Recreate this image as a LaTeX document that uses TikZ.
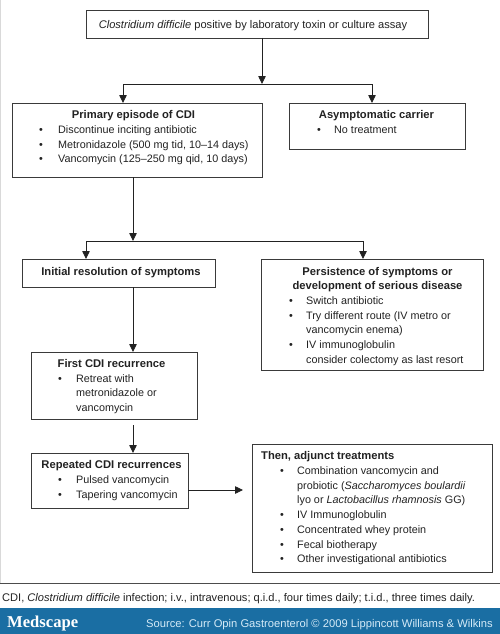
\documentclass[tikz,border=0pt]{standalone}
\usepackage{fontspec}
\setmainfont{Liberation Sans}
\newfontfamily\logofont{Liberation Serif}
\usetikzlibrary{arrows.meta}
\definecolor{band}{HTML}{1A6EA3}
\definecolor{srctext}{HTML}{D4EAF7}
\definecolor{ink}{HTML}{222222}
\definecolor{frame}{HTML}{3A3A3A}
\newcommand\bu[1]{\makebox[#1][l]{\textbullet}}
\newcommand\ind[1]{\hspace*{#1}}
\begin{document}
\begin{tikzpicture}[x=1pt,y=-1pt,
  box/.style={draw=frame, line width=0.8pt, inner sep=0, outer sep=0, anchor=north west},
  txt/.style={inner sep=0, anchor=base west, text=ink, font=\fontsize{10.8}{14.7}\selectfont},
  ttl/.style={txt, anchor=base, font=\fontsize{11.2}{14.3}\selectfont\bfseries},
  arr/.style={draw=ink, -{Triangle[length=8pt,width=7.5pt]}, line width=0.8pt},
  ln/.style={draw=ink, line width=0.8pt}]

\useasboundingbox (0,0) rectangle (500,634);
\fill[white] (0,0) rectangle (500,634);
\draw[gray!30, line width=1.2pt] (0.6,0) -- (0.6,583);

% boxes
\node[box, minimum width=342pt, minimum height=28pt] (top) at (86,10) {};
\node[box, minimum width=250pt, minimum height=74pt] (prim) at (12,103) {};
\node[box, minimum width=176pt, minimum height=46pt] (asym) at (289,103) {};
\node[box, minimum width=193pt, minimum height=28pt] (init) at (22,259) {};
\node[box, minimum width=222pt, minimum height=111pt] (pers) at (261,259) {};
\node[box, minimum width=166pt, minimum height=67pt] (first) at (31,352) {};
\node[box, minimum width=157pt, minimum height=55pt] (rep) at (31,453) {};
\node[box, minimum width=240pt, minimum height=128pt] (adj) at (252,444) {};

% texts
\node[txt, anchor=base, font=\fontsize{11.1}{14}\selectfont] (toptxt) at (253,28.5) {\textit{Clostridium difficile} positive by laboratory toxin or culture assay};

\node[ttl] (primt) at (133.5,118.5) {Primary episode of CDI};
\node[txt] (primb) at (39,133.5) {\begin{tabular}[t]{@{}l@{}}
\bu{19pt}Discontinue inciting antibiotic\\
\bu{19pt}Metronidazole (500 mg tid, 10--14 days)\\
\bu{19pt}Vancomycin (125--250 mg qid, 10 days)
\end{tabular}};

\node[ttl] (asymt) at (376.5,118.5) {Asymptomatic carrier};
\node[txt] (asymb) at (317,133.5) {\bu{17pt}No treatment};

\node[ttl] (initt) at (121,275.5) {Initial resolution of symptoms};

\node[ttl] (perst) at (377.5,275.5) {\begin{tabular}[t]{@{}c@{}}
Persistence of symptoms or\\ development of serious disease\end{tabular}};
\node[txt] (persb) at (289,304.5) {\begin{tabular}[t]{@{}l@{}}
\bu{17pt}Switch antibiotic\\
\bu{17pt}Try different route (IV metro or\\
\ind{17pt}vancomycin enema)\\
\bu{17pt}IV immunoglobulin\\
\ind{17pt}consider colectomy as last resort
\end{tabular}};

\node[ttl] (firstt) at (111.5,367.5) {First CDI recurrence};
\node[txt] (firstb) at (58,382) {\begin{tabular}[t]{@{}l@{}}
\bu{18pt}Retreat with\\
\ind{18pt}metronidazole or\\
\ind{18pt}vancomycin
\end{tabular}};

\node[ttl] (rept) at (111.5,468.5) {Repeated CDI recurrences};
\node[txt] (repb) at (58,483.5) {\begin{tabular}[t]{@{}l@{}}
\bu{18pt}Pulsed vancomycin\\
\bu{18pt}Tapering vancomycin
\end{tabular}};

\node[ttl, anchor=base west] (adjt) at (261,459.5) {Then, adjunct treatments};
\node[txt] (adjb) at (280,474.5) {\begin{tabular}[t]{@{}l@{}}
\bu{17pt}Combination vancomycin and\\
\ind{17pt}probiotic (\textit{Saccharomyces boulardii}\\
\ind{17pt}lyo or \textit{Lactobacillus rhamnosis} GG)\\
\bu{17pt}IV Immunoglobulin\\
\bu{17pt}Concentrated whey protein\\
\bu{17pt}Fecal biotherapy\\
\bu{17pt}Other investigational antibiotics
\end{tabular}};

% connectors
\coordinate (j1) at (262,84);
\coordinate (j1l) at (123,84);
\coordinate (j1r) at (372,84);
\draw[arr] (top.south -| j1) -- (j1);
\draw[ln] (j1l) -- (j1r);
\draw[arr] (j1l) -- (j1l |- prim.north);
\draw[arr] (j1r) -- (j1r |- asym.north);

\coordinate (j2) at (133,241);
\coordinate (j2l) at (86,241);
\coordinate (j2r) at (363,241);
\draw[arr] (prim.south -| j2) -- (j2);
\draw[ln] (j2l) -- (j2r);
\draw[arr] (j2l) -- (j2l |- init.north);
\draw[arr] (j2r) -- (j2r |- pers.north);

\coordinate (c3) at (133,0);
\draw[arr] (init.south -| c3) -- (first.north -| c3);
\draw[arr, shorten <=6pt] (first.south -| c3) -- (rep.north -| c3);
\coordinate (c4) at (0,490);
\draw[arr, shorten >=9pt] (rep.east |- c4) -- (adj.west |- c4);

% caption and footer
\draw[draw=gray!60!black, line width=1pt] (0,583) -- (500,583);
\node[txt, font=\fontsize{11.1}{12}\selectfont] (cap) at (2,601.5) {CDI, \textit{Clostridium difficile} infection; i.v., intravenous; q.i.d., four times daily; t.i.d., three times daily.};
\fill[band] (0,608) rectangle (500,634);
\node[inner sep=0, anchor=base west, text=white, font=\logofont\bfseries\fontsize{16.6}{18}\selectfont] (logo) at (7,627.5) {Medscape};
\node[inner sep=0, anchor=base east, text=srctext, font=\fontsize{11.2}{12}\selectfont] (src) at (493,627) {Source: Curr Opin Gastroenterol \textcopyright{} 2009 Lippincott Williams \& Wilkins};
\end{tikzpicture}
\end{document}
